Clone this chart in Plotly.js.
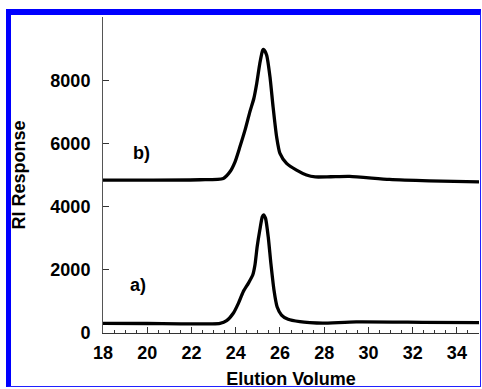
<!DOCTYPE html>
<html>
<head>
<meta charset="utf-8">
<script src="https://cdn.plot.ly/plotly-3.0.1.min.js"></script>
<style>
  html, body { margin: 0; padding: 0; background: #fff; }
  #wrap { position: relative; width: 482px; height: 389px; overflow: hidden; }
  #chart { position: absolute; left: 0; top: 0; width: 482px; height: 389px; }
  #frame { position: absolute; left: 6px; top: 9px; width: 475px; height: 378px; box-sizing: border-box;
           border-left: 5px solid #0000ff; border-top: 6px solid #0000ff;
           border-right: 1px solid #2020ff; border-bottom: 1px solid #2020ff; pointer-events: none; }
</style>
</head>
<body>
<div id="wrap"><div id="chart"></div><div id="frame"></div></div>
<script>
// Curve b) (upper trace)
const bVolume = [18.0, 20.0, 22.39, 23.44, 23.74, 23.97, 24.19, 24.42, 24.64, 24.82, 24.95, 25.09, 25.22, 25.27, 25.40, 25.55, 25.69, 25.85, 26.00, 26.30, 26.75, 27.20, 27.60, 28.30, 29.15, 30.95, 32.75, 35.0];
const bResponse = [4840, 4840, 4850, 4890, 5100, 5417, 5891, 6419, 6998, 7421, 7896, 8528, 8948, 8971, 8791, 8104, 7156, 6207, 5682, 5366, 5154, 5000, 4940, 4945, 4955, 4860, 4816, 4784];
// Curve a) (lower trace)
const aVolume = [18.0, 20.0, 23.29, 23.59, 23.89, 24.12, 24.34, 24.57, 24.77, 24.87, 24.97, 25.09, 25.20, 25.26, 25.35, 25.47, 25.59, 25.73, 25.87, 26.07, 26.37, 26.90, 27.35, 27.93, 29.45, 32.44, 35.0];
const aResponse = [307, 300, 307, 389, 623, 939, 1306, 1572, 1834, 2150, 2729, 3257, 3677, 3741, 3627, 3045, 2204, 1360, 832, 569, 433, 357, 326, 310, 350, 338, 326];
// Axis ticks
const xTicks = [18, 20, 22, 24, 26, 28, 30, 32, 34];
const yTicks = [0, 2000, 4000, 6000, 8000];
const curveLabels = [{text: 'b)', x: 19.76, y: 5692}, {text: 'a)', x: 19.58, y: 1518}];

const font = {family: 'Liberation Sans, Arial, sans-serif', color: '#000'};
const traces = [
  {x: bVolume, y: bResponse, mode: 'lines', line: {color: '#000', width: 3.3, shape: 'spline', smoothing: 0.6}, hoverinfo: 'skip'},
  {x: aVolume, y: aResponse, mode: 'lines', line: {color: '#000', width: 3.3, shape: 'spline', smoothing: 0.6}, hoverinfo: 'skip'}
];
const layout = {
  width: 482, height: 389,
  margin: {l: 102.5, r: 3, t: 17, b: 56, pad: 0},
  paper_bgcolor: '#fff', plot_bgcolor: '#fff',
  showlegend: false,
  font: font,
  xaxis: {
    range: [18, 35], tickvals: xTicks, ticktext: xTicks.map(String),
    ticks: 'inside', ticklen: 6, tickwidth: 1, tickcolor: '#333',
    minor: {dtick: 0.5, tick0: 18, ticks: 'inside', ticklen: 3, tickwidth: 1, tickcolor: '#333'},
    showline: true, linecolor: '#333', linewidth: 1, showgrid: false, zeroline: false,
    tickfont: {family: font.family, size: 18, weight: 'bold', color: '#000'},
    ticklabelstandoff: 3,
    title: {text: '<b>Elution Volume</b>', font: {family: font.family, size: 18, color: '#000'}, standoff: 16}
  },
  yaxis: {
    range: [0, 10000], tickvals: yTicks, ticktext: yTicks.map(String),
    ticks: 'inside', ticklen: 6, tickwidth: 1, tickcolor: '#333',
    showline: true, linecolor: '#555', linewidth: 1, showgrid: false, zeroline: false,
    tickfont: {family: font.family, size: 18, weight: 'bold', color: '#000'},
    ticklabelstandoff: 8,
    title: {text: '<b>RI Response</b>', font: {family: font.family, size: 18, color: '#000'}, standoff: 20}
  },
  annotations: curveLabels.map(l => ({
    x: l.x, y: l.y, xref: 'x', yref: 'y', text: '<b>' + l.text + '</b>', showarrow: false,
    font: {family: font.family, size: 18, color: '#000'}
  }))
};
Plotly.newPlot('chart', traces, layout, {displayModeBar: false, staticPlot: true});
</script>
</body>
</html>
